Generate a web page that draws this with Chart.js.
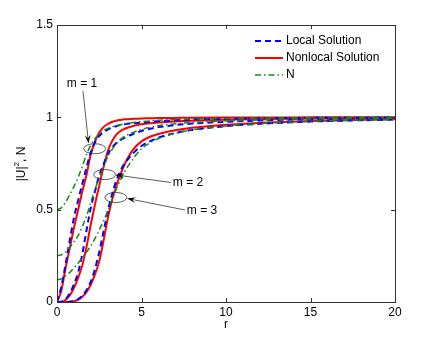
<!DOCTYPE html>
<html>
<head>
<meta charset="utf-8">
<script src="https://cdn.jsdelivr.net/npm/chart.js@4/dist/chart.umd.min.js"></script>
<style>
  html, body { margin: 0; padding: 0; background: #fff; }
  #wrap { width: 436px; height: 340px; }
</style>
</head>
<body>
<div id="wrap"><canvas id="chart" width="436" height="340"></canvas></div>
<script>
// radial coordinate shared by every curve
const r = [0, 0.25, 0.5, 0.75, 1, 1.25, 1.5, 1.75, 2, 2.25, 2.5, 2.75, 3, 3.25, 3.5, 3.75, 4, 4.5, 5, 5.5, 6, 7, 8, 10, 12, 15, 20];

// |U|^2, local solution
const local1 = [0, 0.08, 0.2, 0.33, 0.455, 0.55, 0.64, 0.73, 0.81, 0.865, 0.9, 0.918, 0.933, 0.944, 0.952, 0.958, 0.963, 0.968, 0.972, 0.976, 0.979, 0.984, 0.988, 0.992, 0.995, 0.997, 0.999];
const local2 = [0, 0.002, 0.015, 0.045, 0.095, 0.16, 0.26, 0.39, 0.51, 0.6, 0.685, 0.745, 0.8, 0.835, 0.86, 0.877, 0.89, 0.91, 0.926, 0.938, 0.947, 0.958, 0.966, 0.976, 0.983, 0.99, 0.995];
const local3 = [0, 0, 0, 0.002, 0.006, 0.016, 0.035, 0.065, 0.11, 0.18, 0.27, 0.38, 0.49, 0.58, 0.655, 0.71, 0.75, 0.805, 0.845, 0.87, 0.89, 0.915, 0.932, 0.952, 0.965, 0.977, 0.988];

// |U|^2, nonlocal solution
const nonlocal1 = [0, 0.06, 0.18, 0.29, 0.4, 0.5, 0.6, 0.69, 0.8, 0.87, 0.918, 0.947, 0.964, 0.975, 0.982, 0.986, 0.989, 0.992, 0.994, 0.995, 0.996, 0.997, 0.998, 0.999, 0.999, 1.0, 1.0];
const nonlocal2 = [0, 0, 0.01, 0.035, 0.075, 0.13, 0.2, 0.3, 0.42, 0.53, 0.63, 0.73, 0.815, 0.87, 0.905, 0.925, 0.938, 0.953, 0.962, 0.968, 0.972, 0.978, 0.982, 0.987, 0.99, 0.994, 0.997];
const nonlocal3 = [0, 0, 0, 0.001, 0.004, 0.012, 0.028, 0.055, 0.095, 0.15, 0.22, 0.33, 0.45, 0.55, 0.625, 0.69, 0.745, 0.825, 0.87, 0.895, 0.91, 0.93, 0.943, 0.96, 0.97, 0.98, 0.99];

// N
const n1 = [0.5, 0.51, 0.54, 0.58, 0.625, 0.675, 0.735, 0.8, 0.85, 0.885, 0.91, 0.928, 0.94, 0.949, 0.955, 0.96, 0.965, 0.972, 0.977, 0.981, 0.984, 0.988, 0.991, 0.994, 0.996, 0.998, 0.999];
const n2 = [0.25, 0.255, 0.27, 0.295, 0.325, 0.36, 0.41, 0.465, 0.54, 0.61, 0.675, 0.73, 0.785, 0.825, 0.855, 0.88, 0.897, 0.918, 0.935, 0.946, 0.955, 0.965, 0.972, 0.98, 0.986, 0.991, 0.995];
const n3 = [0.12, 0.125, 0.14, 0.16, 0.185, 0.21, 0.24, 0.27, 0.305, 0.345, 0.39, 0.44, 0.49, 0.55, 0.61, 0.66, 0.705, 0.775, 0.83, 0.862, 0.885, 0.913, 0.932, 0.953, 0.966, 0.978, 0.989];

const xTicks = [0, 5, 10, 15, 20];
const yTicks = [0, 0.5, 1, 1.5];
const legendLabels = ['Local Solution', 'Nonlocal Solution', 'N'];

// ellipse markers + arrows (ellipse centre in data units, text/arrow in pixels)
const marks = [
    { label: 'm = 1', cx: 2.23, cy: 0.83, lx: 82, ly: 84, from: [83, 91], to: [88.5, 143] },
    { label: 'm = 2', cx: 2.82, cy: 0.69, lx: 188, ly: 183, from: [171, 182.5], to: [116, 175] },
    { label: 'm = 3', cx: 3.48, cy: 0.566, lx: 202, ly: 211, from: [185, 210], to: [127.5, 198.5] }
];

const FONT = '"Liberation Sans", Arial, Helvetica, sans-serif';
const BLUE = '#0000ff', RED = '#ff0000', GREEN = '#138a13';
const DASH = [6, 4], DASHDOT = [6, 3, 1.5, 3];

function pts(ys) {
    return r.map((x, i) => ({ x: x, y: ys[i] }));
}

function line(ys, color, dash, width, order) {
    return {
        data: pts(ys),
        borderColor: color,
        borderDash: dash,
        borderWidth: width,
        pointRadius: 0,
        fill: false,
        cubicInterpolationMode: 'monotone',
        order: order
    };
}

function arrow(ctx, x1, y1, x2, y2) {
    ctx.beginPath();
    ctx.moveTo(x1, y1);
    ctx.lineTo(x2, y2);
    ctx.stroke();
    const a = Math.atan2(y2 - y1, x2 - x1);
    const len = 8, hw = 3;
    ctx.beginPath();
    ctx.moveTo(x2, y2);
    ctx.lineTo(x2 - len * Math.cos(a) + hw * Math.sin(a), y2 - len * Math.sin(a) - hw * Math.cos(a));
    ctx.lineTo(x2 - 0.6 * len * Math.cos(a), y2 - 0.6 * len * Math.sin(a));
    ctx.lineTo(x2 - len * Math.cos(a) - hw * Math.sin(a), y2 - len * Math.sin(a) + hw * Math.cos(a));
    ctx.closePath();
    ctx.fill();
}

const decorations = {
    id: 'decorations',
    afterDraw(chart) {
        const ctx = chart.ctx;
        const xs = chart.scales.x, ys = chart.scales.y;
        const a = chart.chartArea;
        ctx.save();

        // frame
        ctx.strokeStyle = '#333';
        ctx.lineWidth = 1;
        ctx.strokeRect(Math.round(a.left) + 0.5, Math.round(a.top) + 0.5,
            Math.round(a.right - a.left), Math.round(a.bottom - a.top));

        // inward ticks
        ctx.beginPath();
        xTicks.forEach(v => {
            const px = Math.round(xs.getPixelForValue(v)) + 0.5;
            ctx.moveTo(px, a.bottom); ctx.lineTo(px, a.bottom - 4);
            ctx.moveTo(px, a.top); ctx.lineTo(px, a.top + 4);
        });
        yTicks.forEach(v => {
            const py = Math.round(ys.getPixelForValue(v)) + 0.5;
            ctx.moveTo(a.left, py); ctx.lineTo(a.left + 4, py);
            ctx.moveTo(a.right, py); ctx.lineTo(a.right - 4, py);
        });
        ctx.stroke();

        // tick labels
        ctx.fillStyle = '#000';
        ctx.font = '12px ' + FONT;
        ctx.textAlign = 'center';
        ctx.textBaseline = 'top';
        xTicks.forEach(v => ctx.fillText(String(v), xs.getPixelForValue(v), a.bottom + 5));
        ctx.textAlign = 'right';
        ctx.textBaseline = 'middle';
        yTicks.forEach(v => ctx.fillText(String(v), a.left - 4, ys.getPixelForValue(v)));

        // axis titles
        ctx.textAlign = 'center';
        ctx.textBaseline = 'middle';
        ctx.fillText('r', (a.left + a.right) / 2, 325);

        ctx.save();
        ctx.translate(22, 164);
        ctx.rotate(-Math.PI / 2);
        ctx.textAlign = 'left';
        ctx.textBaseline = 'middle';
        const p1 = '|U|', p3 = ', N';
        ctx.font = '12px ' + FONT;
        const w1 = ctx.measureText(p1).width, w3 = ctx.measureText(p3).width;
        ctx.font = '8px ' + FONT;
        const w2 = ctx.measureText('2').width;
        let x0 = -(w1 + w2 + w3) / 2;
        ctx.font = '12px ' + FONT;
        ctx.fillText(p1, x0, 0);
        ctx.font = '8px ' + FONT;
        ctx.fillText('2', x0 + w1, -5);
        ctx.font = '12px ' + FONT;
        ctx.fillText(p3, x0 + w1 + w2, 0);
        ctx.restore();

        // legend
        const styles = [[BLUE, DASH, 2], [RED, [], 2], [GREEN, DASHDOT, 1.5]];
        legendLabels.forEach((t, i) => {
            const y = 41 + i * 17;
            ctx.strokeStyle = styles[i][0];
            ctx.setLineDash(styles[i][1]);
            ctx.lineWidth = styles[i][2];
            ctx.beginPath();
            ctx.moveTo(255, y); ctx.lineTo(283, y);
            ctx.stroke();
            ctx.setLineDash([]);
            ctx.fillStyle = '#000';
            ctx.font = '12px ' + FONT;
            ctx.textAlign = 'left';
            ctx.textBaseline = 'middle';
            ctx.fillText(t, 286, y);
        });

        // ellipses, arrows, labels
        ctx.strokeStyle = '#333';
        ctx.fillStyle = '#000';
        ctx.lineWidth = 0.8;
        marks.forEach(m => {
            const cx = xs.getPixelForValue(m.cx), cy = ys.getPixelForValue(m.cy);
            ctx.beginPath();
            ctx.ellipse(cx, cy, 11, 5, 0, 0, Math.PI * 2);
            ctx.stroke();
            arrow(ctx, m.from[0], m.from[1], m.to[0], m.to[1]);
            ctx.font = '12px ' + FONT;
            ctx.textAlign = 'center';
            ctx.textBaseline = 'middle';
            ctx.fillText(m.label, m.lx, m.ly);
        });

        ctx.restore();
    }
};

new Chart(document.getElementById('chart'), {
    type: 'line',
    data: {
        datasets: [
            line(nonlocal1, RED, [], 2, 3),
            line(nonlocal2, RED, [], 2, 3),
            line(nonlocal3, RED, [], 2, 3),
            line(local1, BLUE, DASH, 2, 2),
            line(local2, BLUE, DASH, 2, 2),
            line(local3, BLUE, DASH, 2, 2),
            line(n1, GREEN, DASHDOT, 1.5, 1),
            line(n2, GREEN, DASHDOT, 1.5, 1),
            line(n3, GREEN, DASHDOT, 1.5, 1)
        ]
    },
    options: {
        responsive: false,
        animation: false,
        layout: { padding: { left: 57, right: 41, top: 25, bottom: 38 } },
        plugins: { legend: { display: false }, tooltip: { enabled: false } },
        scales: {
            x: { type: 'linear', min: 0, max: 20, display: false },
            y: { type: 'linear', min: 0, max: 1.5, display: false }
        }
    },
    plugins: [decorations]
});
</script>
</body>
</html>
